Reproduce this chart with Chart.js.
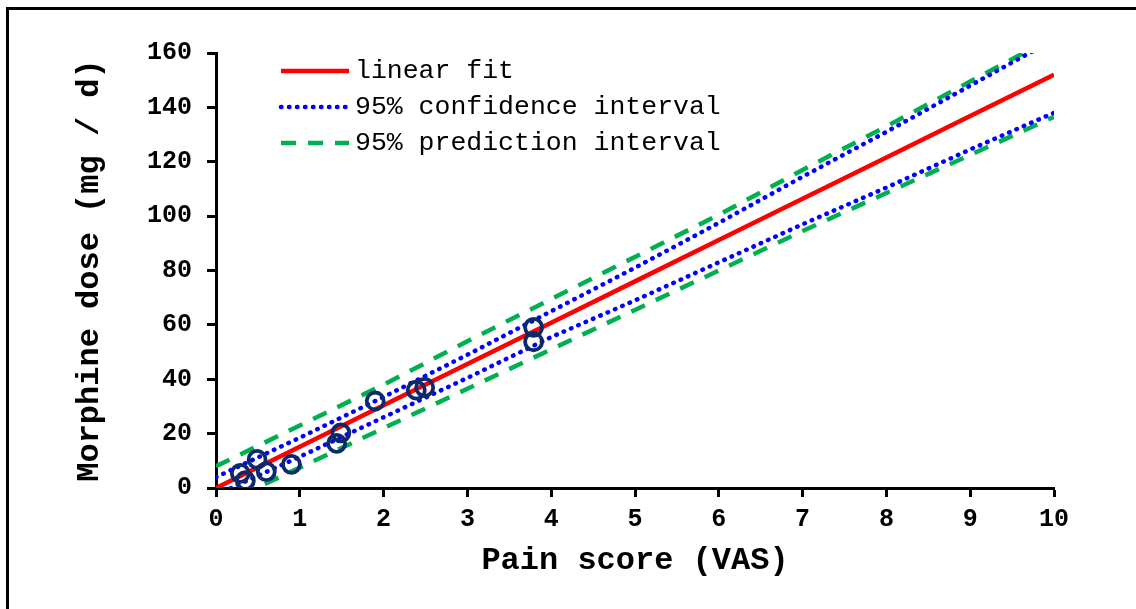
<!DOCTYPE html>
<html>
<head>
<meta charset="utf-8">
<script src="https://cdn.jsdelivr.net/npm/chart.js@4.4.0/dist/chart.umd.min.js"></script>
<style>
  body { margin: 0; background: #fff; overflow: hidden; }
  #wrap { position: relative; width: 1136px; height: 609px; }
</style>
</head>
<body>
<div id="wrap"><canvas id="myChart"></canvas></div>
<script>
   // measured patients: pain score vs daily morphine dose
   var painScore = [0.29, 0.35, 0.49, 0.60, 0.90, 1.44, 1.49, 1.90, 2.39, 2.49, 3.79, 3.79];
   var morphineDose = [5.4, 2.7, 10.5, 6.0, 8.7, 16.4, 20.3, 32.0, 36.0, 37.0, 59.1, 53.8];

   // regression lines, one value per whole VAS point
   var fitX = [0, 1, 2, 3, 4, 5, 6, 7, 8, 9, 10];
   var fitLine = [0, 15.2, 30.4, 45.6, 60.8, 76, 91.2, 106.4, 121.6, 136.8, 152];
   var ciUpper = [4, 18.5, 33.5, 49, 65, 81, 97.5, 114.5, 131, 148, 165];
   var ciLower = [-2.5, 11.5, 26, 40.5, 55.5, 69, 83, 97, 110.5, 124.5, 138];
   var piUpper = [8, 23, 38, 54, 69.5, 85, 100.5, 117, 133, 149.5, 166];
   var piLower = [-7, 7.5, 22, 36.5, 51, 65.5, 80, 94.5, 108.5, 122.5, 136.5];

   var xTicks = [0, 1, 2, 3, 4, 5, 6, 7, 8, 9, 10];
   var yTicks = [0, 20, 40, 60, 80, 100, 120, 140, 160];

   var legendNames = ["linear fit", "95% confidence interval", "95% prediction interval"];

   function toPoints(xs, ys) {
     var pts = [];
     for (var i = 0; i < xs.length; i++) {
       pts.push({x: xs[i], y: ys[i]});
     }
     return pts;
   }

   var monoFont = "'Liberation Mono', 'Courier New', monospace";

   // white page with the frame line at top and left
   var framePlugin = {
     id: "frame",
     beforeDraw: function(chart) {
       var ctx = chart.ctx;
       ctx.save();
       ctx.fillStyle = "#fff";
       ctx.fillRect(0, 0, chart.width, chart.height);
       ctx.fillStyle = "#000";
       ctx.fillRect(6, 7, chart.width, 3);
       ctx.fillRect(6, 7, 3, chart.height);
       ctx.restore();
     }
   };

   // legend inside the plot, drawn with each dataset's own line style
   var legendPlugin = {
     id: "innerLegend",
     afterDatasetsDraw: function(chart) {
       var ctx = chart.ctx;
       var area = chart.chartArea;
       var x0 = area.left + 65;
       var y0 = area.top + 18;
       var row = 0;
       ctx.save();
       chart.data.datasets.forEach(function(ds) {
         if (!ds.legendText) return;
         var y = y0 + row * 36;
         ctx.beginPath();
         ctx.strokeStyle = ds.borderColor;
         ctx.lineWidth = ds.borderWidth;
         ctx.lineCap = ds.borderCapStyle || "butt";
         ctx.setLineDash(ds.borderDash || []);
         ctx.moveTo(x0, y);
         ctx.lineTo(x0 + 68, y);
         ctx.stroke();
         ctx.setLineDash([]);
         ctx.fillStyle = "#000";
         ctx.font = "26.5px " + monoFont;
         ctx.textBaseline = "middle";
         ctx.fillText(ds.legendText, x0 + 74, y);
         row++;
       });
       ctx.restore();
     }
   };

   new Chart("myChart", {
    type: "scatter",
    data: {
      datasets: [{
        data: toPoints(painScore, morphineDose),
        pointRadius: 8.5,
        pointHoverRadius: 8.5,
        pointBorderWidth: 3.8,
        pointBorderColor: "#0c2a6a",
        pointBackgroundColor: "rgba(0,0,0,0)",
        showLine: false,
        order: 0
      }, {
        legendText: legendNames[0],
        data: toPoints(fitX, fitLine),
        showLine: true,
        pointRadius: 0,
        borderColor: "#ff0000",
        borderWidth: 4.5,
        clip: 0,
        order: 1
      }, {
        legendText: legendNames[1],
        data: toPoints(fitX, ciUpper),
        showLine: true,
        pointRadius: 0,
        borderColor: "#0000ff",
        borderWidth: 4.5,
        borderDash: [0.5, 7.5],
        borderCapStyle: "round",
        clip: 0,
        order: 2
      }, {
        data: toPoints(fitX, ciLower),
        showLine: true,
        pointRadius: 0,
        borderColor: "#0000ff",
        borderWidth: 4.5,
        borderDash: [0.5, 7.5],
        borderCapStyle: "round",
        clip: 0,
        order: 2
      }, {
        legendText: legendNames[2],
        data: toPoints(fitX, piUpper),
        showLine: true,
        pointRadius: 0,
        borderColor: "#00b050",
        borderWidth: 4.5,
        borderDash: [15, 12],
        clip: 0,
        order: 3
      }, {
        data: toPoints(fitX, piLower),
        showLine: true,
        pointRadius: 0,
        borderColor: "#00b050",
        borderWidth: 4.5,
        borderDash: [15, 12],
        clip: 0,
        order: 3
      }]
    },
    options: {
      responsive: true,
      maintainAspectRatio: false,
      animation: false,
      events: [],
      layout: {padding: {left: 0, top: 53, right: 82, bottom: 0}},
      plugins: {
        legend: {display: false},
        tooltip: {enabled: false}
      },
      scales: {
        x: {
          type: "linear",
          min: 0,
          max: 10,
          afterBuildTicks: function(scale) {
            scale.ticks = xTicks.map(function(v) { return {value: v}; });
          },
          afterFit: function(scale) { scale.height = 121; },
          border: {display: true, color: "#000", width: 3},
          grid: {drawOnChartArea: false, color: "#000", tickLength: 9, tickWidth: 3},
          ticks: {color: "#000", padding: 8, font: {family: monoFont, size: 25, weight: "bold"}},
          title: {
            display: true,
            text: "Pain score (VAS)",
            color: "#000",
            padding: {bottom: 29},
            font: {family: monoFont, size: 32, weight: "bold"}
          }
        },
        y: {
          type: "linear",
          min: 0,
          max: 160,
          afterBuildTicks: function(scale) {
            scale.ticks = yTicks.map(function(v) { return {value: v}; });
          },
          afterFit: function(scale) { scale.width = 216; },
          border: {display: true, color: "#000", width: 3},
          grid: {drawOnChartArea: false, color: "#000", tickLength: 9, tickWidth: 3},
          ticks: {color: "#000", padding: 15, font: {family: monoFont, size: 25, weight: "bold"}},
          title: {
            display: true,
            text: "Morphine dose (mg / d)",
            color: "#000",
            padding: {top: 71},
            font: {family: monoFont, size: 32, weight: "bold"}
          }
        }
      }
    },
    plugins: [framePlugin, legendPlugin]
  });
</script>
</body>
</html>
